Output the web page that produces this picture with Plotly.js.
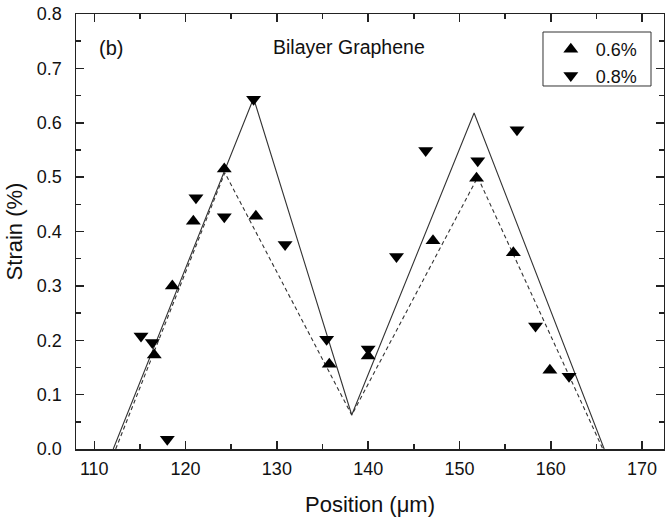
<!DOCTYPE html>
<html>
<head>
<meta charset="utf-8">
<script src="https://cdn.plot.ly/plotly-3.0.1.min.js"></script>
<style>
html,body{margin:0;padding:0;background:#fff;}
#chart{width:665px;height:519px;}
</style>
</head>
<body>
<div id="chart"></div>
<script>
// Data
const pos06 = [116.57, 118.55, 120.85, 124.24, 127.7, 135.74, 140.0, 147.1, 151.87, 155.9, 159.9];
const strain06 = [0.173, 0.300, 0.419, 0.515, 0.428, 0.156, 0.171, 0.383, 0.498, 0.361, 0.145];

const pos08 = [115.12, 116.36, 118.0, 121.14, 124.24, 127.45, 130.9, 135.45, 140.0, 143.1, 146.3, 152.0, 156.3, 158.33, 162.0];
const strain08 = [0.208, 0.196, 0.018, 0.462, 0.427, 0.643, 0.376, 0.202, 0.184, 0.354, 0.549, 0.530, 0.587, 0.226, 0.134];

const fitSolidX = [112.08, 127.45, 138.2, 151.6, 165.85];
const fitSolidY = [0, 0.645, 0.0625, 0.618, 0];
const fitDashX = [112.35, 124.3, 138.2, 152.0, 165.7];
const fitDashY = [0, 0.508, 0.0625, 0.500, 0];

const seriesNames = ["0.6%", "0.8%"];
const xTickVals = [110, 120, 130, 140, 150, 160, 170];
const yTickVals = [0, 0.1, 0.2, 0.3, 0.4, 0.5, 0.6, 0.7, 0.8];

const FONT = "Liberation Sans, Arial, Helvetica, sans-serif";

const traces = [
  {x: fitSolidX, y: fitSolidY, mode: "lines", showlegend: false, hoverinfo: "skip",
   line: {color: "#333", width: 1.1}},
  {x: fitDashX, y: fitDashY, mode: "lines", showlegend: false, hoverinfo: "skip",
   line: {color: "#333", width: 1.1, dash: "4px,3px"}},
  {x: pos06, y: strain06, mode: "markers", name: seriesNames[0],
   marker: {symbol: "triangle-up", size: 13, color: "#000"}},
  {x: pos08, y: strain08, mode: "markers", name: seriesNames[1],
   marker: {symbol: "triangle-down", size: 13, color: "#000"}}
];

const axisCommon = {
  showgrid: false, zeroline: false, showline: true, linecolor: "#222", linewidth: 1.5,
  mirror: "allticks", ticks: "inside", ticklen: 8, tickwidth: 1.5, tickcolor: "#222",
  tickfont: {family: FONT, size: 18, color: "#111"}
};

const layout = {
  width: 665, height: 519,
  margin: {l: 76, r: 1, t: 14, b: 70, pad: 0},
  paper_bgcolor: "#fff", plot_bgcolor: "#fff",
  font: {family: FONT, color: "#111"},
  xaxis: Object.assign({}, axisCommon, {
    range: [108, 172.4], tickvals: xTickVals, ticklabelstandoff: 3,
    minor: {dtick: 5, ticks: "inside", ticklen: 5, tickwidth: 1.5, tickcolor: "#222"},
    title: {text: "Position (μm)", font: {family: FONT, size: 22, color: "#111"}, standoff: 18}
  }),
  yaxis: Object.assign({}, axisCommon, {
    range: [0, 0.8], tickvals: yTickVals, tickformat: ".1f", ticklabelstandoff: 9,
    minor: {dtick: 0.05, ticks: "inside", ticklen: 5, tickwidth: 1.5, tickcolor: "#222"},
    title: {text: "Strain (%)", font: {family: FONT, size: 22, color: "#111"}, standoff: 8}
  }),
  legend: {
    x: 0.799, xanchor: "left", y: 0.961, yanchor: "top",
    bgcolor: "rgba(0,0,0,0)", borderwidth: 0, itemwidth: 40,
    font: {family: FONT, size: 18, color: "#111"}
  },
  shapes: [
    {type: "rect", xref: "paper", yref: "paper", x0: 0.7942, x1: 0.9779, y0: 0.8345, y1: 0.9586,
     line: {color: "#333", width: 1}, fillcolor: "rgba(0,0,0,0)", layer: "above"}
  ],
  annotations: [
    {xref: "paper", yref: "paper", x: 0.0595, y: 0.922, text: "(b)", showarrow: false,
     font: {family: FONT, size: 20, color: "#111"}, xanchor: "center", yanchor: "middle"},
    {xref: "paper", yref: "paper", x: 0.464, y: 0.925, text: "Bilayer Graphene", showarrow: false,
     font: {family: FONT, size: 19.5, color: "#111"}, xanchor: "center", yanchor: "middle"}
  ],
  showlegend: true
};

Plotly.newPlot("chart", traces, layout, {displayModeBar: false, staticPlot: true});
</script>
</body>
</html>
